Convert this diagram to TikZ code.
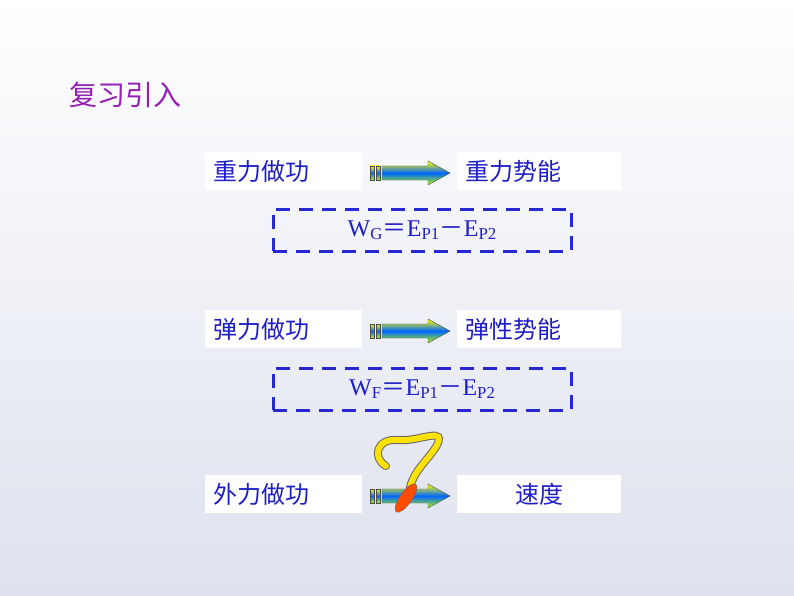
\documentclass[tikz,border=0pt]{standalone}
\usepackage{fontspec}
\newfontfamily\cjk{Noto Sans CJK SC}
\setmainfont{Liberation Serif}
\definecolor{txtblue}{RGB}{30,30,200}
\definecolor{dashblue}{RGB}{40,40,210}
\definecolor{titlepurple}{RGB}{150,30,180}
\tikzset{
  termbox/.style={fill=white,minimum width=157pt,minimum height=36pt,inner sep=8pt,font=\cjk\fontsize{24}{26}\selectfont,text=txtblue},
  lawbox/.style={draw=dashblue,line width=2.5pt,dash pattern=on 14pt off 9pt,minimum width=298pt,minimum height=42pt,font=\fontsize{24}{26}\selectfont,text=txtblue},
  arrowpart/.style={draw=black!70,thin,top color=yellow,bottom color=yellow!70!green,middle color=blue!60!cyan}
}
\newcommand{\flowarrow}[1]{%
  \begin{scope}[shift={(#1)},yscale=-1]
    \shade[arrowpart] (0,-7) rectangle (4,7);
    \shade[arrowpart] (6,-7) rectangle (10,7);
    \shade[arrowpart] (12,-7) -- (58,-7) -- (58,-12) -- (80,0) -- (58,12) -- (58,7) -- (12,7) -- cycle;
  \end{scope}}
\begin{document}
\begin{tikzpicture}[x=1pt,y=1pt]
  \useasboundingbox (0,0) rectangle (794,-596);
  \shade[bottom color={rgb,255:red,222;green,226;blue,238},top color=white] (0,0) rectangle (794,-596);
  \node[anchor=west,text=titlepurple,font=\cjk\fontsize{28}{30}\selectfont] (title) at (66,-95) {复习引入};

  % row 1
  \node[termbox,anchor=north west,text width=141pt,align=left] (work1) at (205,-152) {重力做功};
  \node[termbox,anchor=north west,minimum width=164pt,text width=148pt,align=left] (energy1) at (457,-152) {重力势能};
  \flowarrow{370,-173}
  \node[lawbox,anchor=north west] (law1) at (272,-208) {W\textsubscript{G}{\cjk＝}E\textsubscript{P1}{\cjk－}E\textsubscript{P2}};

  % row 2
  \node[termbox,anchor=north west,text width=141pt,align=left] (work2) at (205,-310) {弹力做功};
  \node[termbox,anchor=north west,minimum width=164pt,text width=148pt,align=left] (energy2) at (457,-310) {弹性势能};
  \flowarrow{370,-331}
  \node[lawbox,anchor=north west] (law2) at (272,-367) {W\textsubscript{F}{\cjk＝}E\textsubscript{P1}{\cjk－}E\textsubscript{P2}};

  % row 3
  \node[termbox,anchor=north west,text width=141pt,align=left] (work3) at (205,-475) {外力做功};
  \node[termbox,anchor=north west,minimum width=164pt] (energy3) at (457,-475) {速度};
  \flowarrow{370,-496}
  % question mark
  \draw[black!60,line width=8pt,line cap=round] (386,-466) .. controls (372,-458) and (376,-438) .. (398,-440) .. controls (420,-442) and (448,-425) .. (436,-447) .. controls (426,-462) and (413,-472) .. (410,-488);
  \draw[yellow!85!orange,line width=6pt,line cap=round] (386,-466) .. controls (372,-458) and (376,-438) .. (398,-440) .. controls (420,-442) and (448,-425) .. (436,-447) .. controls (426,-462) and (413,-472) .. (410,-488);
  \fill[draw=black!60,fill=orange!60!red,rotate around={55:(406,-498)}] (406,-498) ellipse (17pt and 6pt);
\end{tikzpicture}
\end{document}
